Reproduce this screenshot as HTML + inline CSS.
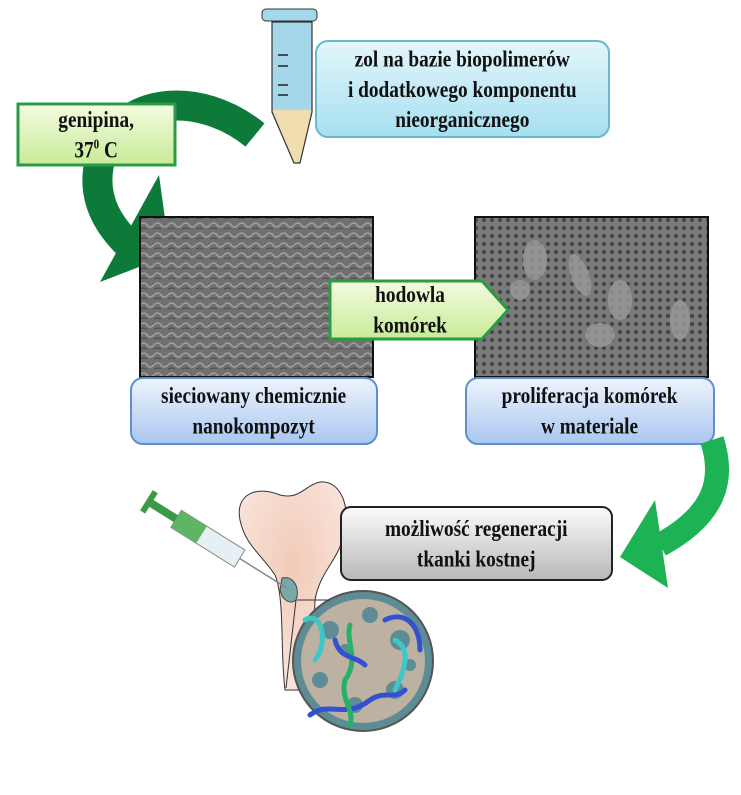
<!DOCTYPE html>
<html><head><meta charset="utf-8"><style>
body{margin:0;background:#fff;width:741px;height:795px;position:relative;overflow:hidden;font-family:"Liberation Serif",serif;}
.t{position:absolute;font-weight:bold;text-align:center;color:#111;box-sizing:border-box;display:flex;align-items:center;justify-content:center;}
.t span{display:inline-block;font-size:21px;line-height:27px;transform:scale(0.92,1.12);white-space:nowrap;}
sup{font-size:12px;line-height:0;vertical-align:super;}
</style></head><body>
<svg width="741" height="795" style="position:absolute;left:0;top:0">
<defs>
<linearGradient id="gb" x1="0" y1="0" x2="0" y2="1"><stop offset="0" stop-color="#e4f6fb"/><stop offset="1" stop-color="#a6dff0"/></linearGradient>
<linearGradient id="gg" x1="0" y1="0" x2="0" y2="1"><stop offset="0" stop-color="#f4fbe0"/><stop offset="1" stop-color="#c8eb98"/></linearGradient>
<linearGradient id="gl" x1="0" y1="0" x2="0" y2="1"><stop offset="0" stop-color="#eef4fd"/><stop offset="1" stop-color="#a9c7f0"/></linearGradient>
<linearGradient id="gy" x1="0" y1="0" x2="0" y2="1"><stop offset="0" stop-color="#fbfbfb"/><stop offset="1" stop-color="#b8b8b8"/></linearGradient>
<radialGradient id="bone" cx="0.5" cy="0.4" r="0.6"><stop offset="0" stop-color="#f2cbb8"/><stop offset="1" stop-color="#f8e4dc"/></radialGradient>
<pattern id="sem1" width="14" height="10" patternUnits="userSpaceOnUse"><rect width="14" height="10" fill="#707070"/><path d="M0 5 Q4 1 7 5 T14 5" stroke="#a0a0a0" stroke-width="1.6" fill="none"/><path d="M0 9 Q4 7 7 9" stroke="#4a4a4a" stroke-width="1" fill="none"/></pattern>
<pattern id="sem2" width="8" height="8" patternUnits="userSpaceOnUse"><rect width="8" height="8" fill="#7a7a7a"/><circle cx="4" cy="4" r="2" fill="#444"/></pattern>
</defs>
<path d="M255 135 C200 90 120 95 100 160 C90 200 110 230 140 255" stroke="#0e7a3a" stroke-width="30" fill="none"/>
<polygon points="100,282 159,175 170,255" fill="#0e7a3a"/>
<path d="M272 22 L312 22 L312 112 L300 163 L294 163 L272 112 Z" fill="#a5d7ea"/>
<path d="M272.5 110 L311.5 110 L300 163 L294 163 Z" fill="#f0deb0"/>
<path d="M272 22 L312 22 L312 112 L300 163 L294 163 L272 112 Z" fill="none" stroke="#333" stroke-width="1.2"/>
<rect x="262" y="9" width="55" height="12" rx="4" fill="#a5d7ea" stroke="#333"/>
<path d="M278 55h10M278 66h10M278 85h10M278 95h10" stroke="#222" stroke-width="1.5"/>
<rect x="316" y="41" width="293" height="96" rx="12" fill="url(#gb)" stroke="#6ab7cf" stroke-width="2"/>
<rect x="18" y="104" width="157" height="61" fill="url(#gg)" stroke="#2b9a45" stroke-width="3"/>
<rect x="140" y="217" width="233" height="160" fill="url(#sem1)" stroke="#111" stroke-width="2"/>
<rect x="475" y="217" width="233" height="160" fill="url(#sem2)" stroke="#111" stroke-width="2"/>
<g fill="#9a9a9a" opacity="0.8"><ellipse cx="535" cy="260" rx="12" ry="20"/><ellipse cx="580" cy="275" rx="9" ry="22" transform="rotate(-20 580 275)"/><ellipse cx="620" cy="300" rx="12" ry="20"/><ellipse cx="600" cy="335" rx="15" ry="12"/><ellipse cx="680" cy="320" rx="10" ry="20"/><ellipse cx="520" cy="290" rx="10" ry="10"/></g>
<polygon points="330,281 482,281 508,310 482,339 330,339" fill="url(#gg)" stroke="#2b9a45" stroke-width="3"/>
<rect x="131" y="378" width="246" height="66" rx="12" fill="url(#gl)" stroke="#5f8fd2" stroke-width="2"/>
<rect x="466" y="378" width="248" height="66" rx="12" fill="url(#gl)" stroke="#5f8fd2" stroke-width="2"/>
<path d="M712 440 C725 480 715 515 660 545" stroke="#1db253" stroke-width="24" fill="none"/>
<polygon points="620,557 655,500 668,588" fill="#1db253"/>
<path d="M240 520 C235 495 255 485 280 495 C300 500 305 485 320 482 C340 480 350 505 345 530 C340 560 320 570 315 600 L312 690 L285 690 C280 650 285 600 275 575 C262 555 245 545 240 520 Z" fill="url(#bone)" stroke="#333" stroke-width="1"/>
<path d="M282 578 C295 575 300 590 296 600 C290 605 282 600 280 590 Z" fill="#7aa8a8" stroke="#444"/>
<circle cx="363" cy="661" r="70" fill="#5d8c94" stroke="#555" stroke-width="2"/>
<circle cx="363" cy="661" r="62" fill="#e7c0a6" opacity="0.7"/>
<g fill="#5d8c94"><circle cx="330" cy="630" r="9"/><circle cx="370" cy="615" r="8"/><circle cx="400" cy="640" r="10"/><circle cx="320" cy="680" r="8"/><circle cx="395" cy="690" r="9"/><circle cx="355" cy="705" r="8"/><circle cx="345" cy="650" r="6"/><circle cx="410" cy="665" r="6"/></g>
<g fill="none" stroke-width="5" stroke-linecap="round">
<path d="M305 620 C320 610 330 640 315 660" stroke="#3dc7c7"/>
<path d="M310 715 C330 700 345 720 370 700 C385 690 395 700 405 690" stroke="#3350d0"/>
<path d="M350 625 C345 640 360 660 345 680 C340 700 355 710 350 725" stroke="#26b06a"/>
<path d="M385 620 C405 610 420 625 420 650" stroke="#3350d0"/>
<path d="M395 640 C415 650 400 680 395 690" stroke="#3dc7c7"/>
<path d="M335 640 C340 660 355 655 365 665" stroke="#3350d0"/>
</g>
<path d="M286 688 L296 600 M297 600 L330 600" stroke="#333" stroke-width="1" fill="none"/>
<g transform="rotate(32 210 540)">
<rect x="170" y="530" width="75" height="20" fill="#e6f0f4" stroke="#888"/>
<rect x="170" y="530" width="30" height="20" fill="#5fb565"/>
<rect x="140" y="536" width="30" height="8" fill="#3a9a45"/>
<rect x="135" y="528" width="6" height="24" fill="#3a9a45"/>
<line x1="245" y1="540" x2="300" y2="540" stroke="#888" stroke-width="1.5"/>
</g>
<rect x="341" y="507" width="271" height="73" rx="10" fill="url(#gy)" stroke="#222" stroke-width="2"/>
</svg>
<div class="t" style="left:316px;top:41px;width:293px;height:96px"><span>zol na bazie biopolimerów<br>i dodatkowego komponentu<br>nieorganicznego</span></div>
<div class="t" style="left:18px;top:104px;width:157px;height:61px"><span>genipina,<br>37<sup>0</sup> C</span></div>
<div class="t" style="left:330px;top:281px;width:160px;height:58px"><span>hodowla<br>komórek</span></div>
<div class="t" style="left:131px;top:378px;width:246px;height:66px"><span>sieciowany chemicznie<br>nanokompozyt</span></div>
<div class="t" style="left:466px;top:378px;width:248px;height:66px"><span>proliferacja komórek<br>w materiale</span></div>
<div class="t" style="left:341px;top:507px;width:271px;height:73px"><span>możliwość regeneracji<br>tkanki kostnej</span></div>
</body></html>
